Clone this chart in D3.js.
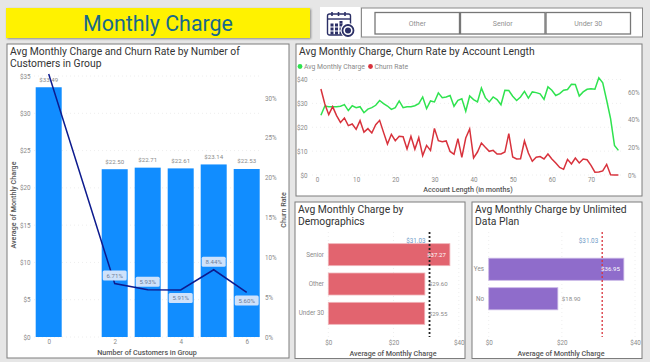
<!DOCTYPE html>
<html>
<head>
<meta charset="utf-8">
<script src="https://cdn.jsdelivr.net/npm/d3@7"></script>
<style>
  html, body { margin: 0; padding: 0; background: #e6e6e6; }
  svg { display: block; }
  text { font-family: Roboto, sans-serif; }
  .tick text { fill: #8a8a8a; font-size: 6.3px; }
  .panel-title { fill: #333; }
  .axis-title { fill: #555; font-weight: 500; }
  .data-label { fill: #8a8a8a; font-size: 6.1px; }
</style>
</head>
<body>
<div id="container"></div>
<script>
/* CONSTANTS AND DATA */
const width = 650, height = 362;

const groupSizes = [0, 2, 3, 4, 5, 6];
const groupCharge = [33.49, 22.50, 22.71, 22.61, 23.14, 22.53];
const groupChurn = [33, 6.71, 5.93, 5.91, 8.44, 5.60];
const groupChurnLabels = ["", "6.71%", "5.93%", "5.91%", "8.44%", "5.60%"];
const groupChurnBelow = [false, false, false, true, false, true];

const months = d3.range(1, 78);
const monthCharge = [25, 28.9, 28.6, 28.6, 28.6, 28.8, 29.5, 27, 29, 28.2,
  28.6, 26.1, 27.6, 28.2, 29.2, 31.2, 29.9, 28.9, 27.5, 28.2,
  31, 28.2, 28.6, 28.6, 29, 29.9, 32.7, 27.8, 31, 30.6,
  34.4, 32.4, 32.7, 33.3, 28.8, 31.3, 31.9, 26.7, 33.1, 31.6,
  30.6, 36.4, 32.4, 30.6, 32.7, 31.6, 29.4, 35.5, 35.4, 33,
  31.2, 32.7, 35, 32.2, 34.8, 34.5, 34, 31.7, 36.9, 35.5,
  33.3, 34.1, 35.5, 35.8, 38, 37.9, 33.1, 34.8, 35.9, 36.1,
  35.9, 40.7, 38.6, 31.3, 23.6, 12.4, 10.3];
const monthChurn = [62.2, 51.3, 43.6, 49.4, 42.9, 38, 41.2, 35.7, 36.9, 33,
  39.3, 31, 33.5, 30.4, 36.4, 39.5, 30.8, 22.4, 29.4, 24.8,
  28, 27.7, 18.8, 28, 18.6, 27, 14, 21.4, 17.8, 33.7,
  24.8, 24.1, 24.6, 17, 15, 26.3, 12.8, 26.7, 33.3, 12.4,
  16.6, 23.1, 20, 17.1, 17.8, 15.2, 15.2, 16.6, 29.9, 13,
  11.6, 11.8, 24.6, 15.9, 9.9, 12.8, 13.3, 11.6, 15.2, 11.6,
  8.7, 5.5, 4.1, 11.3, 8, 12.3, 8.7, 11.6, 11, 7,
  2, 2.2, 3, 7.7, 0.2, 0, 0];

const demoNames = ["Senior", "Other", "Under 30"];
const demoCharge = [37.27, 29.60, 29.55];
const planNames = ["Yes", "No"];
const planCharge = [36.95, 18.90];
const avgCharge = 31.03;

const slicerNames = ["Other", "Senior", "Under 30"];

const usd0 = d => "$" + d;
const usd2 = d => "$" + d.toFixed(2);
const pct0 = d => d + "%";

// font size that makes a string come out at the width measured on the reference
const measure = document.createElement("canvas").getContext("2d");
function fitSize(txt, weight, target) {
  measure.font = `${weight} 100px Roboto`;
  return 100 * target / measure.measureText(txt).width;
}
const titleSize = fitSize("Avg Monthly Charge and Churn Rate by Number of", 400, 230);
const axisTitleSize = fitSize("Number of Customers in Group", 500, 100);
const legendSize = fitSize("Avg Monthly Charge", 400, 61);
const bannerSize = fitSize("Monthly Charge", 400, 150);

/* APPEND SVG */
const svg = d3.select("#container")
  .append("svg")
  .attr("width", width)
  .attr("height", height);

const defs = svg.append("defs");
defs.append("filter").attr("id", "soft")
  .append("feGaussianBlur").attr("stdDeviation", 1.2);

svg.append("rect").attr("width", width).attr("height", height).attr("fill", "#e6e6e6");

// white card with grey border, title lines on top
function panel(x, y, w, h, titleLines) {
  svg.append("rect")
    .attr("x", x).attr("y", y).attr("width", w).attr("height", h)
    .attr("fill", "#fff").attr("stroke", "#7d7d7d").attr("stroke-width", 1);
  svg.selectAll(null)
    .data(titleLines)
    .join("text")
    .attr("class", "panel-title")
    .attr("x", x + 3)
    .attr("y", (d, i) => y + 10.5 + i * 12)
    .style("font-size", titleSize + "px")
    .text(d => d);
}

function axisTitle(x, y, txt, rotate) {
  svg.append("text")
    .attr("class", "axis-title")
    .attr("text-anchor", "middle")
    .attr("transform", `translate(${x},${y})` + (rotate ? " rotate(-90)" : ""))
    .style("font-size", axisTitleSize + "px")
    .text(txt);
}

function drawAxis(axis, tx, ty) {
  const g = svg.append("g")
    .attr("transform", `translate(${tx},${ty})`)
    .call(axis);
  g.select(".domain").remove();
  g.selectAll("line").remove();
  return g;
}

function grid(x1, x2, ys) {
  svg.selectAll(null)
    .data(ys)
    .join("line")
    .attr("x1", x1).attr("x2", x2)
    .attr("y1", d => d).attr("y2", d => d)
    .attr("stroke", "#eeeeee")
    .attr("stroke-dasharray", "1 3");
}

/* HEADER */
svg.append("rect").attr("x", 7).attr("y", 9).attr("width", 304).attr("height", 30)
  .attr("fill", "#8a8a8a").attr("filter", "url(#soft)");
svg.append("rect").attr("x", 6).attr("y", 8).attr("width", 304).attr("height", 30)
  .attr("fill", "#fff200");
svg.append("text")
  .attr("x", 158).attr("y", 30.5)
  .attr("text-anchor", "middle")
  .attr("fill", "#17698c")
  .attr("font-size", bannerSize)
  .text("Monthly Charge");

// calendar icon
svg.append("rect").attr("x", 320).attr("y", 7).attr("width", 40).attr("height", 32).attr("fill", "#fff");
const icon = svg.append("g").attr("transform", "translate(327,12)").attr("fill", "none").attr("stroke", "#2b2f66");
icon.append("rect").attr("x", 0.5).attr("y", 2).attr("width", 23).attr("height", 21).attr("rx", 2).attr("stroke-width", 1.4);
icon.append("line").attr("x1", 0.5).attr("x2", 23.5).attr("y1", 7).attr("y2", 7).attr("stroke-width", 1.4);
icon.selectAll("line.peg").data([5, 11.5, 18]).join("line").attr("class", "peg")
  .attr("x1", d => d).attr("x2", d => d).attr("y1", 0).attr("y2", 4).attr("stroke-width", 1.6);
icon.selectAll("rect.day").data(d3.cross([3.5, 8, 12.5], [13, 17, 21]))
  .join("rect").attr("class", "day")
  .attr("x", d => d[0]).attr("y", d => d[1] - 1.5).attr("width", 3).attr("height", 3)
  .attr("fill", "#2b2f66").attr("stroke", "none");
icon.append("rect").attr("x", 12.5).attr("y", 9).attr("width", 3).attr("height", 2.5).attr("fill", "#2b2f66").attr("stroke", "none");
icon.append("circle").attr("cx", 21).attr("cy", 18.5).attr("r", 7.5).attr("fill", "#fff").attr("stroke", "none");
icon.append("circle").attr("cx", 21).attr("cy", 18.5).attr("r", 5.5).attr("stroke-width", 1.8);
icon.append("circle").attr("cx", 21).attr("cy", 18.5).attr("r", 3).attr("fill", "#2b2f66").attr("stroke", "none");

// slicer
svg.append("rect").attr("x", 361.5).attr("y", 8).attr("width", 281).attr("height", 29)
  .attr("fill", "#fff").attr("stroke", "#8a8a8a");
const slicerX = d3.scaleBand().domain(slicerNames).range([375, 630.5]).paddingInner(0.012);
svg.selectAll("rect.slicer").data(slicerNames).join("rect").attr("class", "slicer")
  .attr("x", d => slicerX(d)).attr("y", 12.5)
  .attr("width", slicerX.bandwidth()).attr("height", 21.5)
  .attr("fill", "#fff").attr("stroke", "#777").attr("stroke-width", 1.3);
svg.selectAll("text.slicer").data(slicerNames).join("text").attr("class", "slicer")
  .attr("x", d => slicerX(d) + slicerX.bandwidth() / 2).attr("y", 26)
  .attr("text-anchor", "middle").attr("fill", "#8f8f8f").attr("font-size", 7)
  .text(d => d);

/* CHART 1 - charge and churn by group size */
panel(7, 44, 282, 314, ["Avg Monthly Charge and Churn Rate by Number of", "Customers in Group"]);

const x1 = d3.scaleLinear().domain([0, 6]).range([48.7, 246.7]);
const y1 = d3.scaleLinear().domain([0, 35]).range([337, 76]);
const y1r = d3.scaleLinear().domain([0, 30]).range([337, 98]);
const barW1 = 26;

grid(34, 260, y1.ticks(7).map(y1));

svg.selectAll("rect.group").data(groupSizes).join("rect").attr("class", "group")
  .attr("x", d => x1(d) - barW1 / 2)
  .attr("y", (d, i) => y1(groupCharge[i]))
  .attr("width", barW1)
  .attr("height", (d, i) => y1(0) - y1(groupCharge[i]))
  .attr("fill", "#118dff");

svg.selectAll("text.groupval").data(groupSizes).join("text").attr("class", "groupval data-label")
  .attr("x", d => x1(d))
  .attr("y", (d, i) => y1(groupCharge[i]) - 5.5)
  .attr("text-anchor", "middle")
  .text((d, i) => usd2(groupCharge[i]));

const churnLine = d3.line().x((d, i) => x1(groupSizes[i])).y(d => y1r(d));
svg.append("path").datum(groupChurn)
  .attr("d", churnLine)
  .attr("fill", "none").attr("stroke", "#0d1b8e").attr("stroke-width", 1.5);

const churnLab = svg.selectAll("g.churnlab").data(groupSizes.slice(1)).join("g").attr("class", "churnlab")
  .attr("transform", (d, i) => `translate(${x1(d)},${y1r(groupChurn[i + 1]) + (groupChurnBelow[i + 1] ? 8 : -8)})`);
churnLab.append("rect")
  .attr("x", -12).attr("y", -5).attr("width", 24).attr("height", 10).attr("rx", 1.5)
  .attr("fill", "#cfe2fb");
churnLab.append("text")
  .attr("text-anchor", "middle").attr("y", 2.2)
  .attr("fill", "#6f8098").attr("font-size", 6.1)
  .text((d, i) => groupChurnLabels[i + 1]);

drawAxis(d3.axisLeft(y1).ticks(7).tickFormat(usd0).tickSize(0).tickPadding(0), 30.5, 0);
drawAxis(d3.axisRight(y1r).ticks(6).tickFormat(pct0).tickSize(0).tickPadding(0), 265, 0);
drawAxis(d3.axisBottom(x1).tickValues([0, 2, 4, 6]).tickFormat(d3.format("d")).tickSize(0).tickPadding(0), 0, 340);

axisTitle(16, 205, "Average of Monthly Charge", true);
axisTitle(286, 210, "Churn Rate", true);
axisTitle(147, 355, "Number of Customers in Group", false);

/* CHART 2 - charge and churn by account length */
panel(296, 44, 346, 152, ["Avg Monthly Charge, Churn Rate by Account Length"]);

const x2 = d3.scaleLinear().domain([0, 70]).range([317, 591]);
const y2 = d3.scaleLinear().domain([0, 40]).range([175, 79.5]);
const y2r = d3.scaleLinear().domain([0, 60]).range([175, 92]);

grid(312, 622, y2.ticks(4).map(y2));

const monthLine = yScale => d3.line().x((d, i) => x2(months[i])).y(d => yScale(d));
svg.append("path").datum(monthCharge)
  .attr("d", monthLine(y2))
  .attr("fill", "none").attr("stroke", "#2fe34f").attr("stroke-width", 1.5);
svg.append("path").datum(monthChurn)
  .attr("d", monthLine(y2r))
  .attr("fill", "none").attr("stroke", "#d8323c").attr("stroke-width", 1.5);

const legend = svg.selectAll("g.legend")
  .data([["Avg Monthly Charge", "#2fe34f", 300], ["Churn Rate", "#d8323c", 370.5]])
  .join("g").attr("class", "legend")
  .attr("transform", d => `translate(${d[2]},66.5)`);
legend.append("circle").attr("r", 2.4).attr("fill", d => d[1]);
legend.append("text").attr("x", 4).attr("y", 2.4)
  .attr("fill", "#8a8a8a").attr("font-size", legendSize)
  .text(d => d[0]);

drawAxis(d3.axisLeft(y2).ticks(4).tickFormat(usd0).tickSize(0).tickPadding(0), 307.5, 0);
drawAxis(d3.axisRight(y2r).ticks(3).tickFormat(pct0).tickSize(0).tickPadding(0), 628, 0);
drawAxis(d3.axisBottom(x2).tickValues(d3.range(0, 80, 10)).tickFormat(d3.format("d")).tickSize(0).tickPadding(0), 0, 177.5);
axisTitle(468, 192, "Account Length (in months)", false);

/* CHARTS 3, 4 - horizontal bars with average line */
function hbars(opts) {
  panel(opts.px, 202, opts.pw, 156.5, opts.title);
  const x = d3.scaleLinear().domain([0, 40]).range(opts.xRange);
  const y = d3.scaleBand().domain(opts.names).range(opts.yRange).paddingInner(0.25).paddingOuter(0.125);

  x.ticks(2).forEach(t => {
    svg.append("line").attr("x1", x(t)).attr("x2", x(t)).attr("y1", 232).attr("y2", 337)
      .attr("stroke", "#eeeeee").attr("stroke-dasharray", "1 3");
  });

  svg.selectAll(null).data(opts.names).join("rect")
    .attr("x", x(0))
    .attr("y", d => y(d))
    .attr("width", (d, i) => x(opts.values[i]) - x(0))
    .attr("height", y.bandwidth())
    .attr("fill", opts.color)
    .attr("stroke", opts.edge)
    .attr("stroke-width", 0.8);

  svg.append("line")
    .attr("x1", x(avgCharge)).attr("x2", x(avgCharge)).attr("y1", 232).attr("y2", 337)
    .attr("stroke", opts.lineColor).attr("stroke-width", opts.lineWidth)
    .attr("stroke-dasharray", "2 2");
  svg.append("text")
    .attr("x", x(avgCharge) - 4).attr("y", 242.5)
    .attr("text-anchor", "end").attr("fill", "#6f9cc8").attr("font-size", 6.3)
    .text(usd2(avgCharge));

  svg.selectAll(null).data(opts.names).join("text")
    .attr("class", "data-label")
    .attr("x", (d, i) => opts.values[i] > avgCharge ? x(opts.values[i]) - 4 : x(opts.values[i]) + 4)
    .attr("y", d => y(d) + y.bandwidth() / 2 + 2.2)
    .attr("text-anchor", (d, i) => opts.values[i] > avgCharge ? "end" : "start")
    .style("fill", (d, i) => opts.values[i] > avgCharge ? "#fff" : "#8a8a8a")
    .text((d, i) => usd2(opts.values[i]));

  drawAxis(d3.axisLeft(y).tickSize(0).tickPadding(0), opts.catX, 0);
  drawAxis(d3.axisBottom(x).ticks(2).tickFormat(usd0).tickSize(0).tickPadding(0), 0, 341);
  axisTitle(opts.titleX, 355.5, "Average of Monthly Charge", false);
}

hbars({
  px: 295, pw: 170,
  title: ["Avg Monthly Charge by", "Demographics"],
  names: demoNames, values: demoCharge,
  xRange: [328.3, 458.8], yRange: [240, 328],
  color: "#e2646f", edge: "#f0b5ba",
  lineColor: "#222", lineWidth: 1.8, catX: 324, titleX: 393
});
hbars({
  px: 472, pw: 170,
  title: ["Avg Monthly Charge by Unlimited", "Data Plan"],
  names: planNames, values: planCharge,
  xRange: [488.7, 635], yRange: [254.5, 313.5],
  color: "#8f6ccb", edge: "#c9b6e6",
  lineColor: "#d8323c", lineWidth: 1.3, catX: 484, titleX: 561
});
</script>
</body>
</html>
